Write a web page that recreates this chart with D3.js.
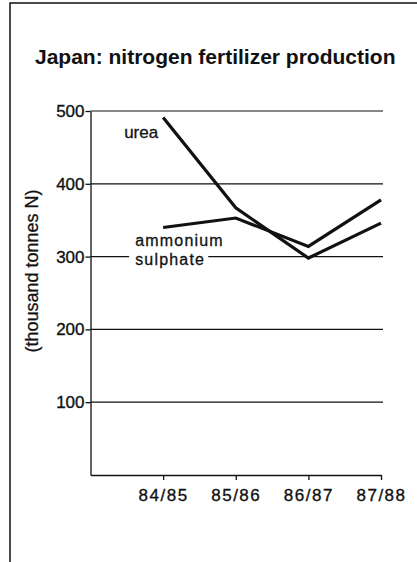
<!DOCTYPE html>
<html>
<head>
<meta charset="utf-8">
<script src="https://cdn.jsdelivr.net/npm/d3@7"></script>
<style>
  body { margin: 0; background: #fff; }
  svg { font-family: "Liberation Sans", Arial, Helvetica, sans-serif; }
</style>
</head>
<body>
<script>
const width = 417;
const height = 562;

const categories = ['84/85', '85/86', '86/87', '87/88'];
const ureaValues = [491, 367, 298, 346];
const ammoniumValues = [340, 353, 314, 378];
const yTicks = [100, 200, 300, 400, 500];

const ink = '#111';

const svg = d3.select('body')
    .append('svg')
    .attr('width', width)
    .attr('height', height);

// frame of the scanned page (left and top edges only)
svg.append('path')
    .attr('d', 'M10,' + height + 'V3H' + width)
    .attr('fill', 'none')
    .attr('stroke', ink)
    .attr('stroke-width', 1.5);

svg.append('text')
    .attr('x', 35)
    .attr('y', 64)
    .attr('font-size', 21)
    .attr('font-weight', 'bold')
    .attr('fill', ink)
    .text('Japan: nitrogen fertilizer production');

// x uses category index, one empty step before the first season
let xScale = d3.scaleLinear()
    .domain([-1, categories.length - 1])
    .range([90.5, 381]);

let yScale = d3.scaleLinear()
    .domain([0, 500])
    .range([475, 111]);

// gridlines
svg.append('g')
    .selectAll('line')
    .data(yTicks)
    .enter()
    .append('line')
    .attr('x1', xScale(-1))
    .attr('x2', xScale(categories.length - 1) + 2)
    .attr('y1', d => yScale(d))
    .attr('y2', d => yScale(d))
    .attr('stroke', ink)
    .attr('stroke-width', 1.2);

let yAxis = d3.axisLeft(yScale)
    .tickValues(yTicks)
    .tickSize(5)
    .tickSizeOuter(0)
    .tickPadding(1);

let xAxis = d3.axisBottom(xScale)
    .tickValues(d3.range(categories.length))
    .tickFormat(i => categories[i])
    .tickSize(5)
    .tickSizeOuter(0)
    .tickPadding(9);

let gy = svg.append('g')
    .attr('transform', `translate(${xScale(-1)}, 0)`)
    .call(yAxis);

let gx = svg.append('g')
    .attr('transform', `translate(0, ${yScale(0)})`)
    .call(xAxis);

[gx, gy].forEach(g => {
    g.select('.domain').attr('stroke', ink).attr('stroke-width', 1.3);
    g.selectAll('.tick line').attr('stroke', ink).attr('stroke-width', 1.3);
    g.selectAll('.tick text')
        .attr('font-size', 17)
        .attr('fill', ink)
        .attr('stroke', ink)
        .attr('stroke-width', 0.35)
        .attr('font-family', '"Liberation Sans", Arial, sans-serif');
});
gx.selectAll('.tick text').style('letter-spacing', '1.5px');

svg.append('text')
    .attr('transform', 'translate(38, 271) rotate(-90)')
    .attr('text-anchor', 'middle')
    .attr('font-size', 18)
    .attr('fill', ink)
    .attr('stroke', ink)
    .attr('stroke-width', 0.3)
    .text('(thousand tonnes N)');

// series lines
let line = d3.line()
    .x((d, i) => xScale(i))
    .y(d => yScale(d));

let series = [
    { name: 'urea', values: ureaValues },
    { name: 'ammonium sulphate', values: ammoniumValues }
];

svg.selectAll('.series')
    .data(series)
    .enter()
    .append('path')
    .attr('class', 'series')
    .attr('d', d => line(d.values))
    .attr('fill', 'none')
    .attr('stroke', ink)
    .attr('stroke-width', 3.2)
    .attr('stroke-linejoin', 'miter');

// direct labels
svg.append('text')
    .attr('x', xScale(0) - 39)
    .attr('y', yScale(463))
    .attr('font-size', 17)
    .attr('fill', ink)
    .attr('stroke', ink)
    .attr('stroke-width', 0.3)
    .text('urea');

let labelX = xScale(0) - 28;
let ammLabel = svg.append('g');
let bgRect = ammLabel.append('rect').attr('fill', '#fff');
let ammText = ammLabel.append('text')
    .attr('x', labelX)
    .attr('y', yScale(314))
    .attr('font-size', 16)
    .attr('fill', ink)
    .attr('stroke', ink)
    .attr('stroke-width', 0.3)
    .style('letter-spacing', '1.2px');
ammText.append('tspan').text('ammonium');
let sulph = ammText.append('tspan')
    .attr('x', labelX)
    .attr('dy', yScale(288) - yScale(314))
    .text('sulphate');

// white patch so the 300 gridline stops around "sulphate"
let sw = sulph.node().getComputedTextLength();
bgRect
    .attr('x', labelX - 6)
    .attr('y', yScale(288) - 12)
    .attr('width', sw + 9)
    .attr('height', 13);
</script>
</body>
</html>
